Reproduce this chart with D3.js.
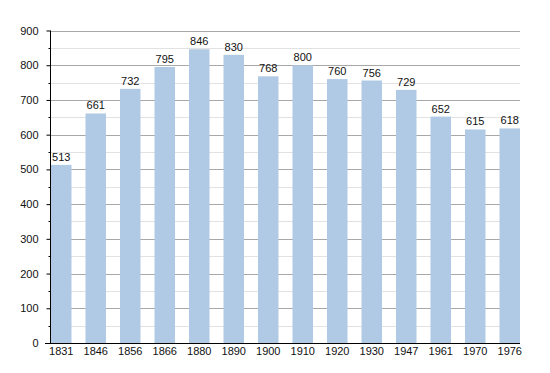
<!DOCTYPE html>
<html><head><meta charset="utf-8">
<script src="https://cdn.jsdelivr.net/npm/d3@7"></script>
<style>body{margin:0;background:#fff}svg{display:block}text{font-family:"Liberation Sans",Arial,sans-serif;}</style>
</head><body><svg width="550" height="373"></svg>
<script>
const years = ["1831","1846","1856","1866","1880","1890","1900","1910","1920","1930","1947","1961","1970","1976"];
const population = [513,661,732,795,846,830,768,800,760,756,729,652,615,618];
const majorTicks = [0,100,200,300,400,500,600,700,800,900];
const minorTicks = [50,150,250,350,450,550,650,750,850];

(function(){
const svg = d3.select("svg");
const mLeft = 50, mRight = 520, mTop = 30.5, mBottom = 343;
const x = d3.scaleBand().domain(years).range([51, mRight]).paddingInner(0.406).paddingOuter(0).align(0);
const y = d3.scaleLinear().domain([0, 900]).range([mBottom, mTop]);

// grid
svg.append("g").selectAll("line").data(minorTicks).join("line")
  .attr("x1", mLeft).attr("x2", mRight).attr("y1", d => Math.round(y(d))+0.5).attr("y2", d => Math.round(y(d))+0.5)
  .attr("stroke", "#e2e2e2").attr("stroke-width", 1);
svg.append("g").selectAll("line").data(majorTicks.filter(d=>d>0)).join("line")
  .attr("x1", mLeft).attr("x2", mRight).attr("y1", d => Math.round(y(d))+0.5).attr("y2", d => Math.round(y(d))+0.5)
  .attr("stroke", "#a8a8a8").attr("stroke-width", 1);

// bars
svg.append("g").selectAll("rect").data(years).join("rect")
  .attr("x", d => x(d)).attr("width", x.bandwidth())
  .attr("y", (d,i) => y(population[i])).attr("height", (d,i) => mBottom - y(population[i]))
  .attr("fill", "#b0c9e4");

// value labels
svg.append("g").selectAll("text").data(years).join("text")
  .attr("x", d => x(d) + x.bandwidth()/2).attr("y", (d,i) => y(population[i]) - 4)
  .attr("text-anchor", "middle").attr("font-size", 11).attr("fill", "#111")
  .text((d,i) => population[i]);

// y axis
const yAxis = d3.axisLeft(y).tickValues(majorTicks).tickSize(4).tickPadding(8).tickFormat(d3.format("d"));
const gy = svg.append("g").attr("transform", `translate(${mLeft+0.5},0)`).call(yAxis);
gy.select(".domain").attr("stroke", "#000").attr("d", `M0,${mTop}V${mBottom}`);
gy.selectAll("text").attr("font-size", 11).attr("fill", "#111").style("font-family", '"Liberation Sans",Arial,sans-serif');
gy.selectAll(".tick line").attr("stroke", "#000");
gy.append("g").selectAll("line").data(minorTicks).join("line")
  .attr("x1", -2).attr("x2", 0).attr("y1", d => Math.round(y(d))+0.5).attr("y2", d => Math.round(y(d))+0.5)
  .attr("stroke", "#000");

// x axis
const xAxis = d3.axisBottom(x).tickSize(0).tickPadding(4);
const gx = svg.append("g").attr("transform", `translate(0,${mBottom+0.5})`).call(xAxis);
gx.select(".domain").attr("stroke", "#000").attr("d", `M45,0H${mRight}`);
gx.selectAll("text").attr("font-size", 11).attr("fill", "#111").style("font-family", '"Liberation Sans",Arial,sans-serif');
})();
</script></body></html>
